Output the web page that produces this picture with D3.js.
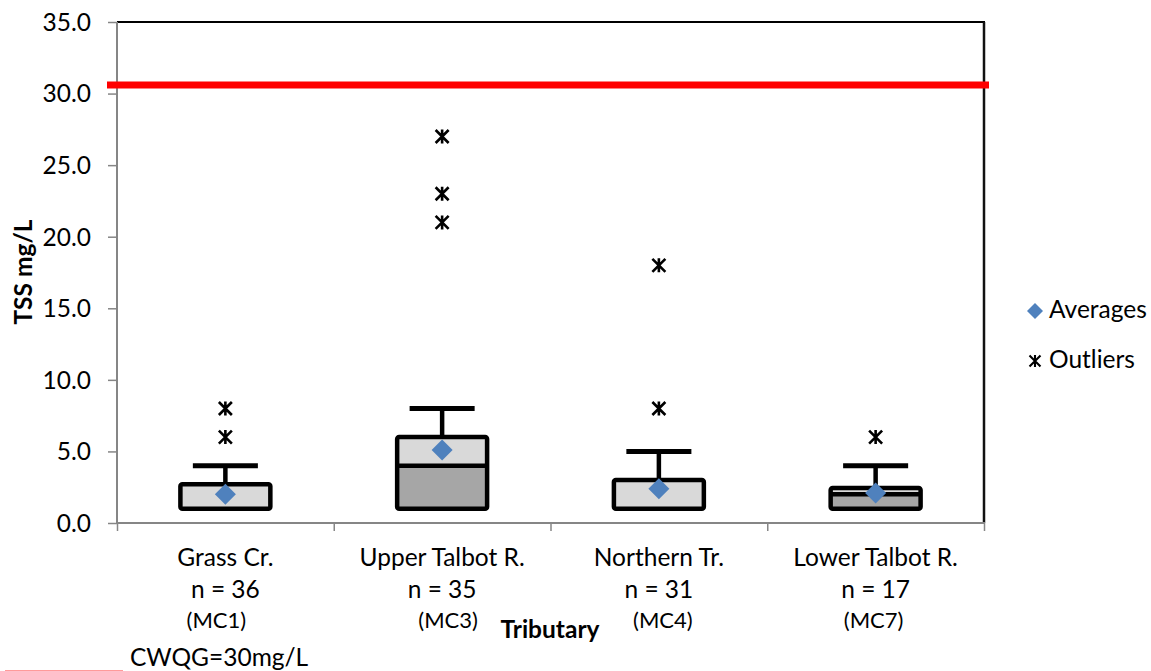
<!DOCTYPE html>
<html>
<head>
<meta charset="utf-8">
<script src="https://cdn.jsdelivr.net/npm/d3@7"></script>
<style>
  html, body { margin: 0; padding: 0; background: #fff; }
  svg { display: block; }
  text { font-family: "Lato", "Noto Sans", sans-serif; fill: #000; }
</style>
</head>
<body>
<svg id="chart" width="1151" height="671"></svg>
<script>
// ---------- data ----------
const categories   = ["Grass Cr.", "Upper Talbot R.", "Northern Tr.", "Lower Talbot R."];
const sampleCounts = ["n = 36", "n = 35", "n = 31", "n = 17"];
const siteCodes    = ["(MC1)", "(MC3)", "(MC4)", "(MC7)"];
const q1Values     = [1.0, 1.0, 1.0, 1.0];
const medianValues = [1.0, 4.0, 1.0, 2.0];
const q3Values     = [2.7, 6.0, 3.0, 2.45];
const whiskerMax   = [4.0, 8.0, 5.0, 4.0];
const averages     = [2.0, 5.1, 2.4, 2.1];
const outliers     = [[8, 6], [27, 23, 21], [18, 8], [6]];
const yTickValues  = [0, 5, 10, 15, 20, 25, 30, 35];
const cwqgLevel    = 30.6;   // drawn position of the guideline
const cwqgLabel    = "CWQG=30mg/L";
const legendLabels = ["Averages", "Outliers"];

// ---------- layout ----------
const L = 117, R = 984, T = 22, B = 523;
const fontSize = 24.5;
const svg = d3.select("#chart");

const x = d3.scaleBand().domain(categories).range([L, R]).padding(0);
const xEdges = d3.scaleLinear().domain([0, categories.length]).range([L, R]);
const y = d3.scaleLinear().domain([0, 35]).range([B, T]);

const boxW = x.bandwidth() * 0.415;
const capW = x.bandwidth() * 0.30;
const cx = (i) => x(categories[i]) + x.bandwidth() / 2;

// ---------- frame (top & right border) ----------
svg.append("line").attr("x1", L).attr("x2", R + 1).attr("y1", T).attr("y2", T)
  .attr("stroke", "#000").attr("stroke-width", 2);
svg.append("line").attr("x1", R).attr("x2", R).attr("y1", T).attr("y2", B)
  .attr("stroke", "#111").attr("stroke-width", 2.5);

// ---------- axes ----------
const yAxis = svg.append("g").attr("transform", `translate(${L},0)`)
  .call(d3.axisLeft(y).tickValues(yTickValues).tickSize(9).tickPadding(17)
    .tickFormat(d3.format(".1f")));
yAxis.select(".domain").attr("stroke", "#868686").attr("stroke-width", 2)
  .attr("d", `M0,${T}V${B}`);
yAxis.selectAll(".tick line").attr("stroke", "#868686").attr("stroke-width", 1.5);
yAxis.selectAll(".tick text").attr("font-size", fontSize)
  .attr("font-family", "Lato, 'Noto Sans', sans-serif").attr("fill", "#000")
  .attr("dy", "0.34em");

const xAxis = svg.append("g").attr("transform", `translate(0,${B})`)
  .call(d3.axisBottom(xEdges).tickValues(d3.range(categories.length + 1)).tickSize(8)
    .tickFormat(""));
xAxis.select(".domain").attr("stroke", "#868686").attr("stroke-width", 2)
  .attr("d", `M${L},0H${R + 1}`);
xAxis.selectAll(".tick line").attr("stroke", "#868686").attr("stroke-width", 1.5);

// ---------- guideline ----------
svg.append("line").attr("x1", L - 10).attr("x2", R + 5)
  .attr("y1", y(cwqgLevel)).attr("y2", y(cwqgLevel))
  .attr("stroke", "#ff0000").attr("stroke-width", 7);

// ---------- boxes ----------
const boxes = svg.append("g");
categories.forEach((c, i) => {
  const g = boxes.append("g");
  const xc = cx(i), x0 = xc - boxW / 2;
  // whisker
  g.append("line").attr("x1", xc).attr("x2", xc)
    .attr("y1", y(q3Values[i])).attr("y2", y(whiskerMax[i]))
    .attr("stroke", "#000").attr("stroke-width", 4.5);
  g.append("line").attr("x1", xc - capW / 2).attr("x2", xc + capW / 2)
    .attr("y1", y(whiskerMax[i])).attr("y2", y(whiskerMax[i]))
    .attr("stroke", "#000").attr("stroke-width", 5);
  // lower part (Q1 - median)
  if (medianValues[i] > q1Values[i]) {
    g.append("rect").attr("x", x0).attr("width", boxW)
      .attr("y", y(medianValues[i])).attr("height", y(q1Values[i]) - y(medianValues[i]))
      .attr("fill", "#a6a6a6");
  }
  // upper part (median - Q3)
  g.append("rect").attr("x", x0).attr("width", boxW)
    .attr("y", y(q3Values[i])).attr("height", y(medianValues[i]) - y(q3Values[i]))
    .attr("fill", "#d9d9d9");
  // outline
  g.append("rect").attr("x", x0).attr("width", boxW)
    .attr("y", y(q3Values[i])).attr("height", y(q1Values[i]) - y(q3Values[i]))
    .attr("fill", "none").attr("stroke", "#000").attr("stroke-width", 4.5)
    .attr("rx", 2).attr("stroke-linejoin", "round");
  if (medianValues[i] > q1Values[i]) {
    g.append("line").attr("x1", x0).attr("x2", x0 + boxW)
      .attr("y1", y(medianValues[i])).attr("y2", y(medianValues[i]))
      .attr("stroke", "#000").attr("stroke-width", 4.5);
  }
});

// ---------- markers ----------
const diamond = (h) => `M0,${-h}L${h},0L0,${h}L${-h},0Z`;
const star = (h) => `M${-h},${-h}L${h},${h}M${-h},${h}L${h},${-h}M0,${-h - 0.5}L0,${h + 0.5}`;

svg.append("g").selectAll("path").data(averages).join("path")
  .attr("transform", (d, i) => `translate(${cx(i)},${y(d)})`)
  .attr("d", diamond(10.5)).attr("fill", "#4f81bd");

const outPts = outliers.flatMap((arr, i) => arr.map(v => ({ i, v })));
svg.append("g").selectAll("path").data(outPts).join("path")
  .attr("transform", d => `translate(${cx(d.i)},${y(d.v)})`)
  .attr("d", star(6.5)).attr("fill", "none").attr("stroke", "#000").attr("stroke-width", 2.6);

// ---------- category labels ----------
const codeOffsets = [-9, 6, 4, -2];
const lab = svg.append("g").attr("text-anchor", "middle");
categories.forEach((c, i) => {
  lab.append("text").attr("x", cx(i)).attr("y", 566).attr("font-size", fontSize).text(c);
  lab.append("text").attr("x", cx(i)).attr("y", 598).attr("font-size", fontSize).text(sampleCounts[i]);
  lab.append("text").attr("x", cx(i) + codeOffsets[i]).attr("y", 628).attr("font-size", 22).text(siteCodes[i]);
});

// ---------- axis titles ----------
svg.append("text").attr("x", 550).attr("y", 638).attr("text-anchor", "middle")
  .attr("font-size", fontSize).attr("font-weight", "bold").text("Tributary");
svg.append("text").attr("transform", "translate(32,272) rotate(-90)")
  .attr("text-anchor", "middle").attr("font-size", fontSize).attr("font-weight", "bold")
  .text("TSS mg/L");

// ---------- legend ----------
svg.append("path").attr("transform", "translate(1035,311)").attr("d", diamond(8)).attr("fill", "#4f81bd");
svg.append("text").attr("x", 1049).attr("y", 318).attr("font-size", fontSize).text(legendLabels[0]);
svg.append("path").attr("transform", "translate(1035,361)").attr("d", star(5.5))
  .attr("fill", "none").attr("stroke", "#000").attr("stroke-width", 2.1);
svg.append("text").attr("x", 1049).attr("y", 368).attr("font-size", fontSize).text(legendLabels[1]);

// CWQG key at bottom-left
svg.append("line").attr("x1", 5).attr("x2", 123).attr("y1", 670.5).attr("y2", 670.5)
  .attr("stroke", "#ff9a9a").attr("stroke-width", 1);
svg.append("text").attr("x", 130).attr("y", 666).attr("font-size", fontSize).text(cwqgLabel);
</script>
</body>
</html>
